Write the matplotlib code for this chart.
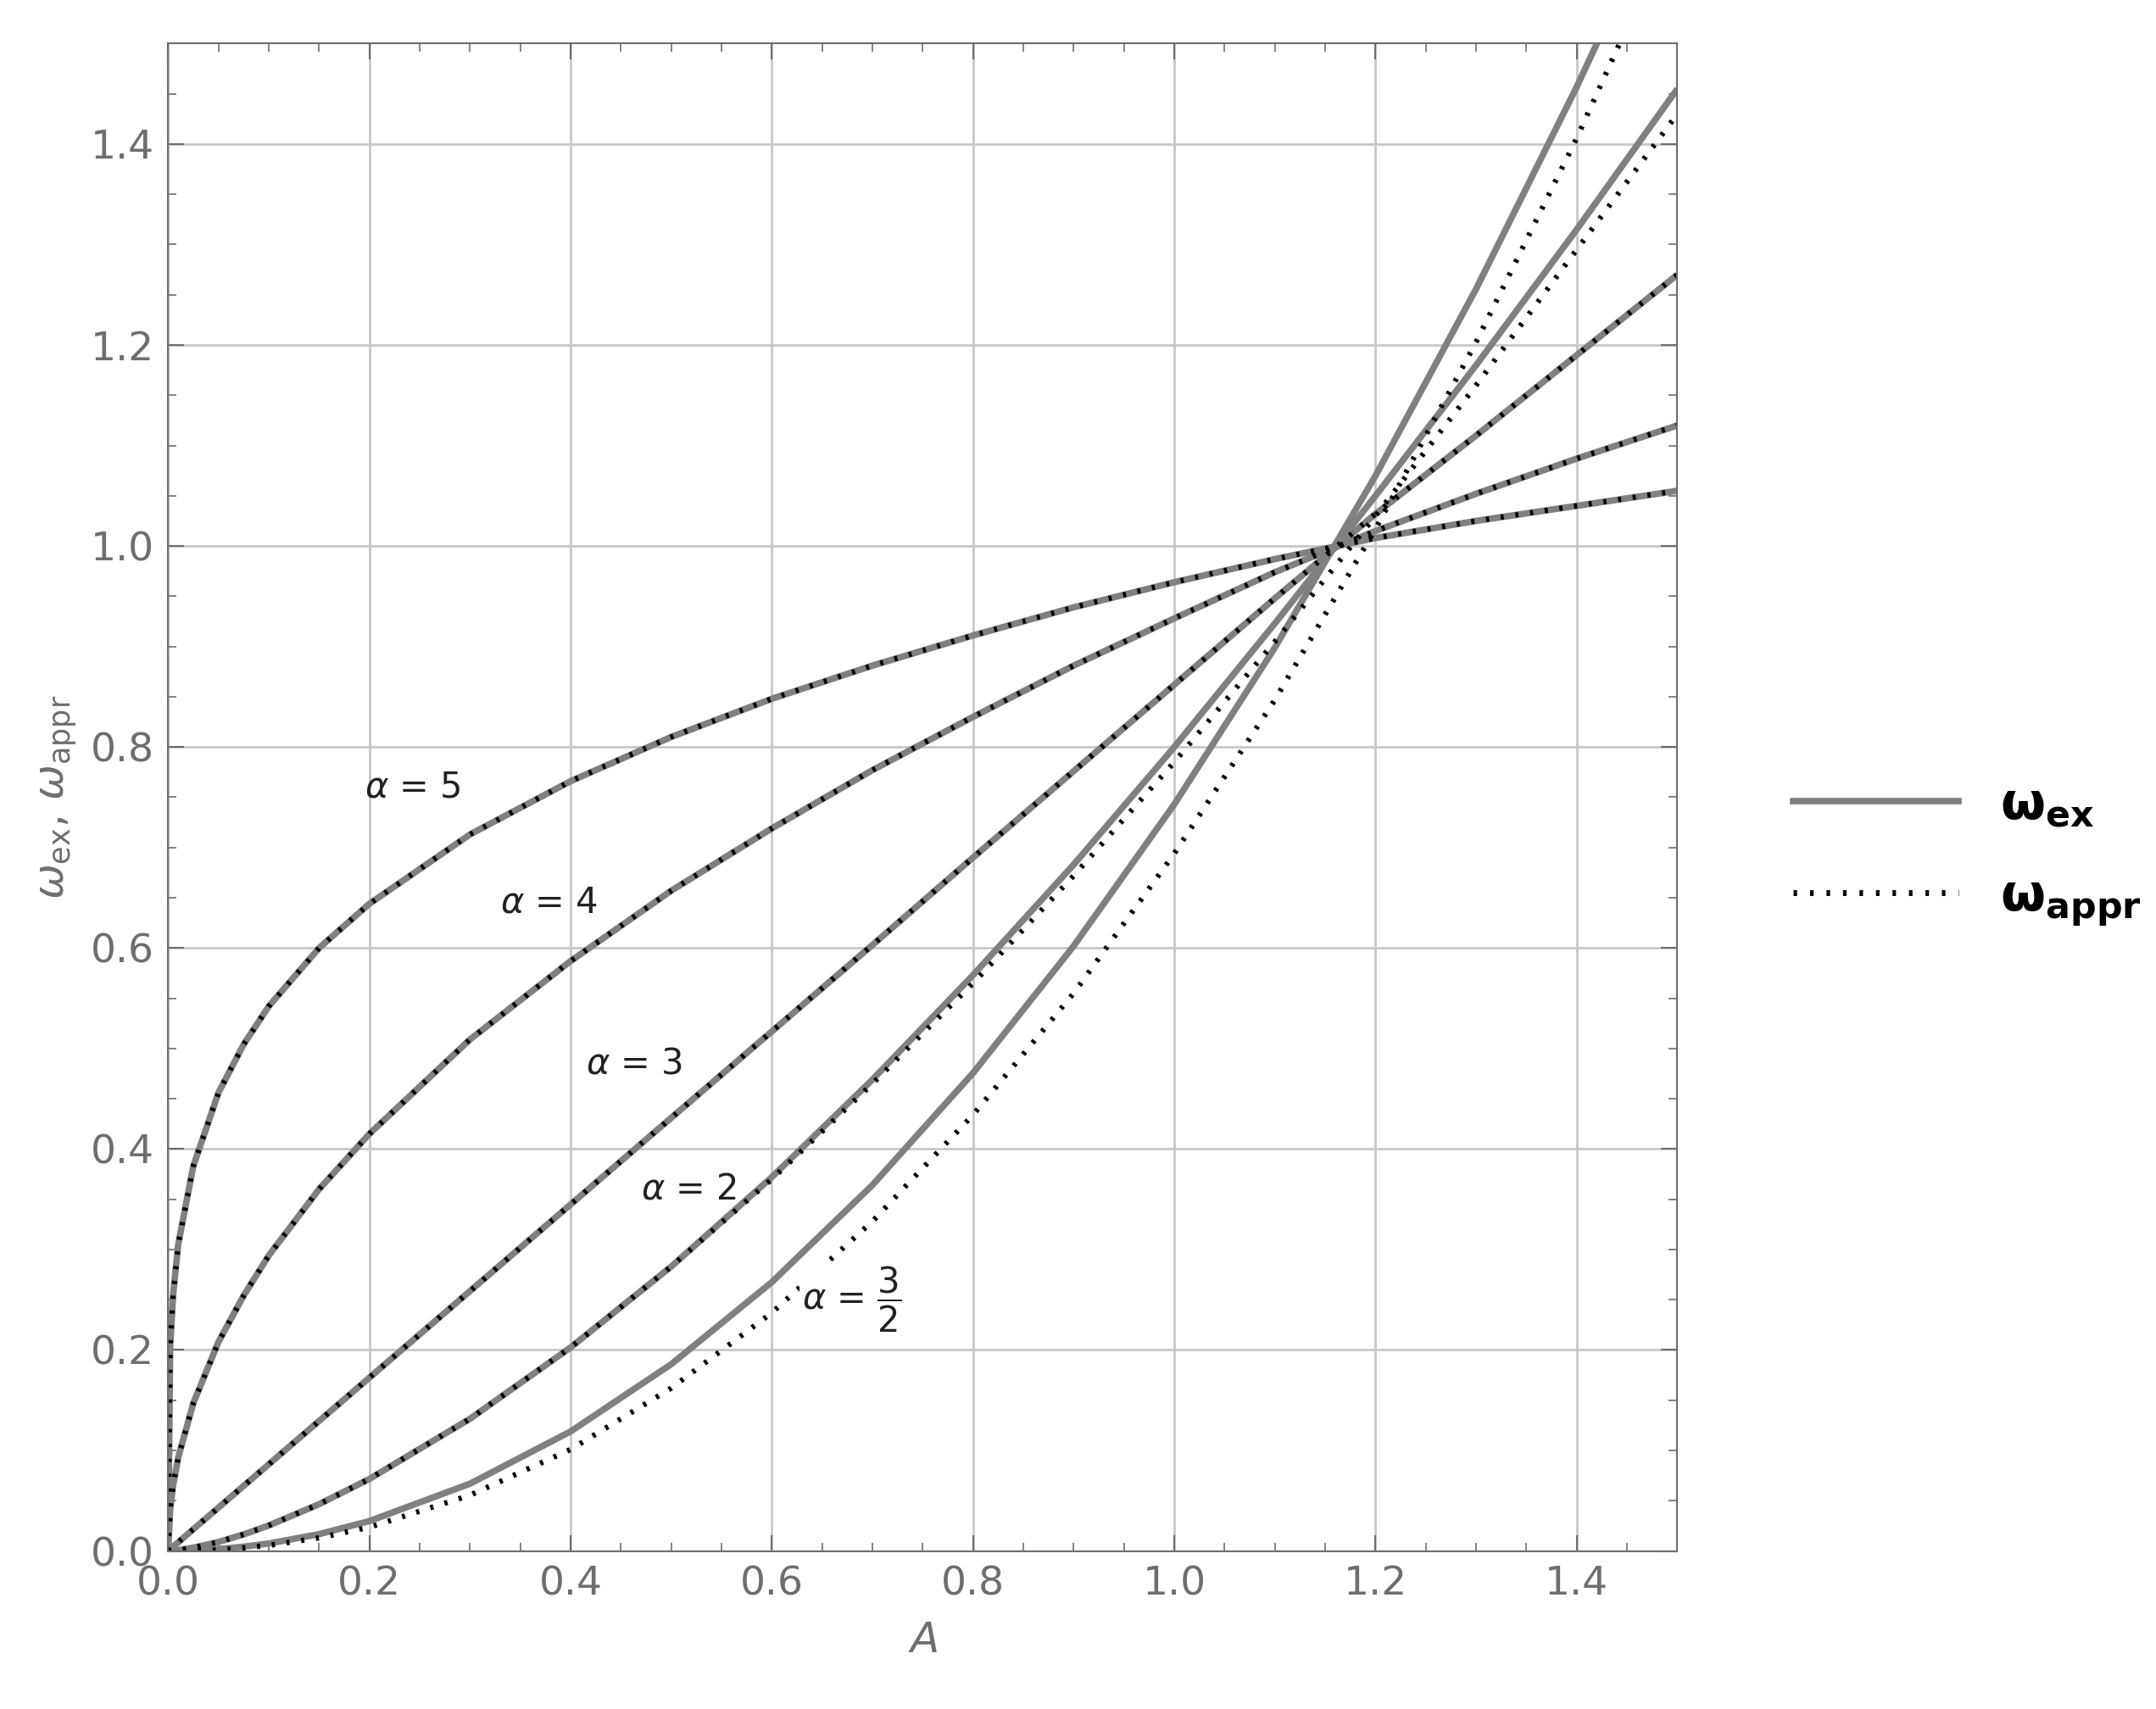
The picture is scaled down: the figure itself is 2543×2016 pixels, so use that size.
import matplotlib
matplotlib.use("agg")
import matplotlib.pyplot as plt
from matplotlib.ticker import MultipleLocator, FormatStrFormatter
from matplotlib.lines import Line2D

A = [0.0, 0.002, 0.005, 0.01, 0.025, 0.05, 0.075, 0.1, 0.15, 0.2, 0.3, 0.4,
     0.5, 0.6, 0.7, 0.8, 0.9, 1.0, 1.1, 1.2, 1.3, 1.4, 1.5]

# exact frequency
w_ex = {
    "5": [0, .204, .256, .305, .383, .456, .504, .542, .600, .644, .713, .766,
          .810, .848, .881, .911, .939, .964, .987, 1.008, 1.025, 1.040, 1.055],
    "4": [0, .0415, .0657, .093, .147, .208, .254, .294, .360, .415, .509,
          .587, .657, .719, .777, .830, .881, .928, .974, 1.015, 1.052, 1.087,
          1.12],
    "3": [0, .0017, .0043, .0086, .0216, .0431, .0647, .0862, .1293, .1724,
          .2586, .3448, .431, .517, .603, .690, .776, .862, .948, 1.032, 1.110,
          1.19, 1.27],
    "2": [0, .0001, .0003, .0008, .0032, .0089, .0164, .0253, .0465, .0716,
          .1315, .2025, .283, .372, .469, .573, .683, .800, .923, 1.050, 1.180,
          1.315, 1.455],
    "1.5": [0, 0, 0, .0001, .0005, .0019, .0042, .0074, .0167, .0297, .0669,
            .1189, .1858, .2675, .3641, .4756, .602, .743, .899, 1.070, 1.256,
            1.457, 1.672],
}

# approximate frequency
w_appr = dict(w_ex)
w_appr["2"] = [0, .0001, .0003, .0008, .0032, .0089, .0164, .0253, .0465,
               .0716, .1315, .2025, .283, .370, .465, .565, .672, .785, .905,
               1.03, 1.16, 1.295, 1.43]
w_appr["1.5"] = [0, 0, 0, 0, .0001, .0010, .0030, .0055, .0130, .0236, .0554,
                 .101, .162, .237, .328, .434, .555, .694, .847, 1.017, 1.203,
                 1.406, 1.627]

labels = [("5", r"$\alpha$ = 5", 0.195, 0.76),
          ("4", r"$\alpha$ = 4", 0.33, 0.645),
          ("3", r"$\alpha$ = 3", 0.415, 0.485),
          ("2", r"$\alpha$ = 2", 0.47, 0.36),
          ("1.5", r"$\alpha$ = $\dfrac{3}{2}$", 0.63, 0.25)]

gray = "#808080"
tick_gray = "#6e6e6e"
plt.rcParams["font.family"] = ["DejaVu Sans"]
plt.rcParams["mathtext.fontset"] = "dejavusans"

fig = plt.figure(figsize=(25.43, 20.16), dpi=100)
ax = fig.add_axes([0.078, 0.0925, 0.700, 0.882])

for key in w_ex:
    ax.plot(A, w_ex[key], color=gray, lw=5.5, solid_capstyle="butt")
for key in w_appr:
    ax.plot(A, w_appr[key], color="black", lw=4.5, linestyle=(0, (0.6, 2.2)))

for key, txt, x, y in labels:
    ax.text(x, y, txt, fontsize=30, color="#222222", ha="left", va="center",
            bbox=dict(facecolor="white", edgecolor="none", pad=2) if key == "1.5" else None)

ax.set_xlim(0, 1.5)
ax.set_ylim(0, 1.5)
ax.xaxis.set_major_locator(MultipleLocator(0.2))
ax.yaxis.set_major_locator(MultipleLocator(0.2))
ax.xaxis.set_minor_locator(MultipleLocator(0.05))
ax.yaxis.set_minor_locator(MultipleLocator(0.05))
ax.xaxis.set_major_formatter(FormatStrFormatter("%.1f"))
ax.yaxis.set_major_formatter(FormatStrFormatter("%.1f"))
ax.grid(True, which="major", color="#c8c8c8", lw=2)
ax.set_axisbelow(True)
ax.tick_params(which="both", direction="in", top=True, right=True,
               colors=tick_gray, labelsize=34, pad=12)
ax.tick_params(which="major", length=14, width=1.5)
ax.tick_params(which="minor", length=7, width=1.2)
for s in ax.spines.values():
    s.set_color(tick_gray)
    s.set_linewidth(1.5)

ax.set_xlabel(r"$A$", fontsize=36, color=tick_gray, labelpad=14)
ax.set_ylabel(r"$\omega_{\mathrm{ex}}$, $\omega_{\mathrm{appr}}$", fontsize=36,
              color=tick_gray, labelpad=10)

handles = [Line2D([], [], color=gray, lw=5.5),
           Line2D([], [], color="black", lw=5, linestyle=(0, (0.6, 2.2)))]
fig.legend(handles, [r"$\mathbf{\omega_{ex}}$", r"$\mathbf{\omega_{appr}}$"],
           loc="center left", bbox_to_anchor=(0.81, 0.50), frameon=False,
           fontsize=44, handlelength=3.2, labelspacing=0.8)

fig.savefig("out.png", dpi=100)
